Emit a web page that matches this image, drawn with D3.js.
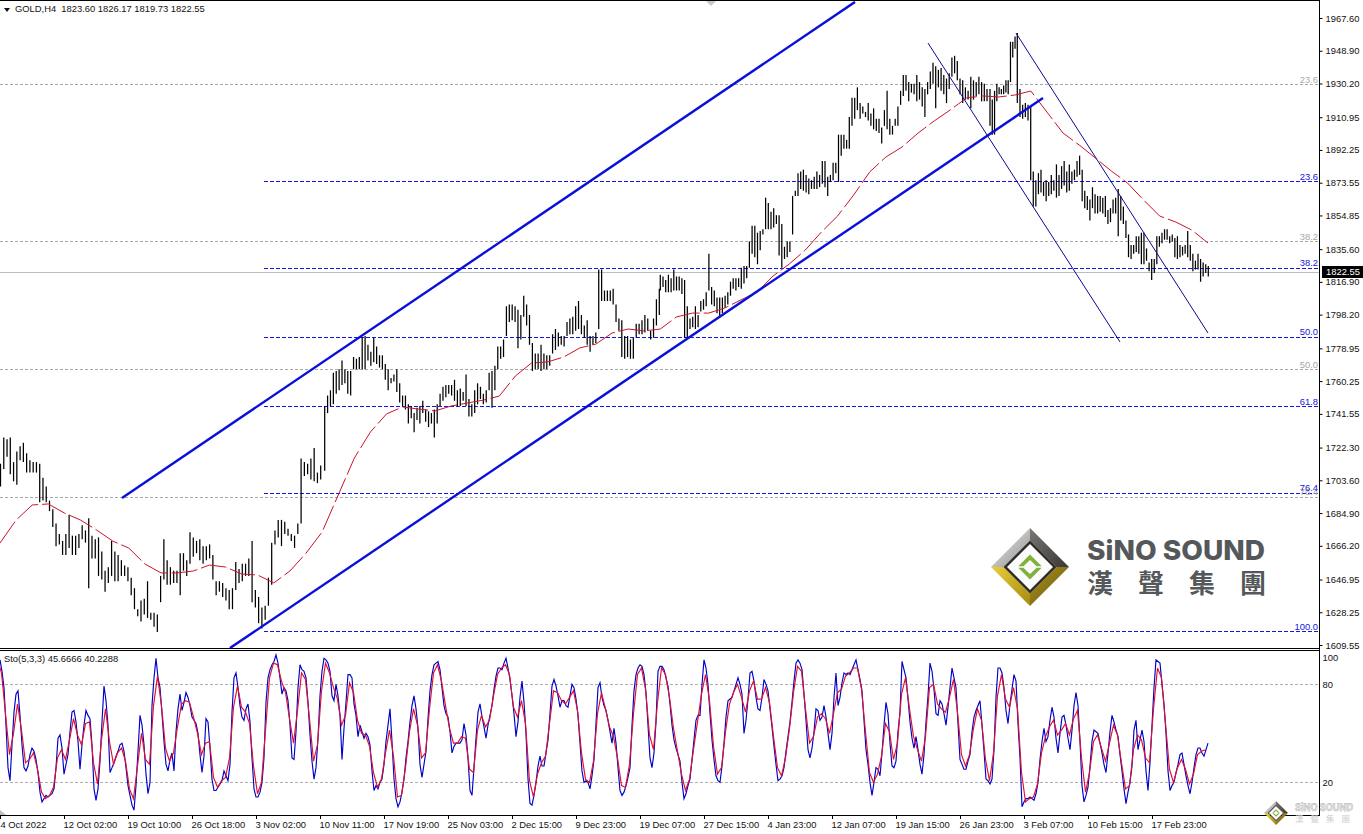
<!DOCTYPE html>
<html><head><meta charset="utf-8">
<style>html,body{margin:0;padding:0;background:#fff;overflow:hidden}svg{display:block}text{font-family:"Liberation Sans",Arial,sans-serif;font-size:9.4px;fill:#111}</style>
<script src="https://d3js.org/d3.v7.min.js"></script></head><body>
<script>
// --- Price bars (highs/lows), four consecutive stretches of the chart
const highsA=[1713,1728,1727,1728,1714,1720,1723,1725,1719,1715,1714,1714,1713,1705,1700,1692,1687,1679,1673,1669,1673,1684,1672,1672,1673,1678,1675,1682,1672,1670,1671,1663,1652,1654,1669,1663,1661,1658,1655,1654,1648,1642,1630,1635,1636,1646,1628,1628,1627,1649,1670,1658,1654,1652,1652,1662,1662,1658,1674,1671,1669,1670,1666,1666,1667,1661,1646,1646,1645,1642,1641,1642,1657,1653,1656,1656,1659,1669,1641,1637,1631,1632,1648,1668,1675,1681,1681,1680,1676,1673,1672,1679,1716,1714,1713,1716,1722,1708,1712];
const lowsA=[1700,1710,1717,1707,1703,1701,1715,1714,1708,1708,1708,1708,1691,1692,1691,1686,1677,1666,1667,1661,1661,1665,1661,1661,1665,1670,1668,1642,1659,1659,1649,1647,1640,1645,1649,1646,1646,1649,1649,1646,1638,1630,1626,1623,1627,1625,1624,1620,1617,1634,1647,1644,1644,1645,1645,1638,1652,1649,1656,1660,1662,1658,1656,1658,1659,1647,1638,1640,1637,1635,1630,1630,1641,1645,1646,1649,1649,1634,1631,1622,1619,1624,1632,1644,1667,1671,1666,1673,1672,1669,1665,1673,1679,1706,1707,1704,1703,1702,1704];
const highsB=[1746,1752,1755,1765,1766,1767,1772,1767,1766,1766,1774,1773,1774,1785,1786,1781,1777,1785,1780,1775,1775,1770,1767,1762,1764,1767,1759,1752,1752,1747,1746,1742,1745,1746,1749,1744,1743,1742,1744,1747,1753,1757,1758,1758,1758,1761,1755,1756,1754,1764,1750,1747,1755,1759,1757,1753,1755,1765,1766,1769,1780,1780,1784,1803,1804,1804,1803,1801,1798,1809,1804,1798,1782,1776,1776,1781,1776,1775,1775,1787,1790,1788,1786,1786,1794,1796,1797,1803,1806,1798,1792,1795,1786,1786,1788,1824,1824,1812,1812,1812,1813,1804,1796,1795,1786,1786,1784,1785,1793,1793,1795,1798,1796,1789,1796,1807,1813];
const lowsB=[1709,1742,1746,1747,1753,1755,1758,1759,1753,1752,1767,1767,1767,1767,1767,1772,1769,1771,1770,1768,1767,1761,1755,1759,1760,1754,1748,1746,1744,1736,1739,1731,1738,1736,1742,1737,1734,1736,1728,1736,1746,1749,1751,1753,1752,1749,1746,1746,1749,1746,1740,1740,1742,1747,1750,1747,1748,1755,1745,1755,1767,1773,1774,1786,1794,1795,1794,1779,1784,1797,1792,1781,1766,1767,1767,1766,1767,1767,1769,1776,1778,1780,1781,1780,1786,1787,1787,1789,1790,1787,1785,1781,1777,1781,1782,1790,1806,1806,1806,1806,1804,1794,1789,1774,1773,1774,1773,1773,1785,1787,1787,1788,1789,1784,1785,1792,1798];
const highsC=[1821,1820,1818,1821,1819,1824,1820,1820,1819,1818,1803,1796,1797,1803,1798,1806,1807,1811,1833,1814,1812,1808,1808,1808,1809,1811,1817,1819,1819,1819,1825,1826,1826,1840,1849,1849,1845,1846,1847,1865,1862,1857,1859,1855,1855,1850,1837,1840,1840,1866,1869,1879,1880,1881,1878,1876,1875,1877,1880,1878,1886,1886,1877,1878,1885,1885,1901,1901,1901,1898,1911,1922,1922,1928,1919,1917,1914,1919,1913,1916,1910,1910,1905,1915,1926,1910,1906,1910,1917,1926,1935,1935,1931,1930,1930,1935,1931,1928,1927,1931,1937,1942,1940,1938,1939,1935,1933,1936,1945,1946,1943,1933,1932,1928,1926,1934,1932,1931,1934,1931,1930,1927];
const lowsC=[1812,1814,1811,1811,1811,1812,1812,1812,1810,1785,1785,1790,1791,1790,1791,1800,1801,1803,1812,1804,1803,1799,1797,1799,1802,1804,1809,1813,1812,1814,1813,1816,1819,1825,1833,1831,1827,1835,1844,1847,1847,1847,1848,1850,1832,1825,1830,1831,1834,1844,1866,1866,1870,1869,1868,1867,1870,1870,1870,1871,1873,1871,1866,1874,1875,1879,1874,1889,1893,1893,1893,1906,1910,1915,1910,1913,1911,1909,1906,1904,1903,1902,1896,1906,1904,1901,1901,1906,1906,1918,1923,1926,1920,1925,1924,1920,1921,1917,1911,1924,1927,1930,1916,1928,1926,1924,1919,1927,1934,1936,1932,1924,1919,1921,1921,1916,1921,1923,1924,1920,1920,1920];
const highsD=[1927,1921,1926,1930,1928,1927,1929,1932,1932,1954,1954,1957,1959,1927,1918,1919,1918,1917,1880,1875,1879,1881,1874,1875,1874,1878,1875,1884,1878,1883,1886,1880,1884,1880,1881,1886,1889,1881,1869,1866,1864,1871,1867,1866,1866,1865,1866,1858,1859,1864,1865,1870,1866,1860,1852,1844,1838,1838,1843,1843,1845,1845,1836,1828,1830,1830,1843,1843,1845,1847,1847,1843,1844,1842,1843,1838,1837,1838,1846,1838,1833,1829,1833,1830,1828,1827,1826];
const lowsD=[1906,1901,1901,1920,1924,1924,1924,1925,1924,1931,1945,1950,1919,1911,1910,1911,1909,1875,1860,1860,1867,1868,1866,1863,1866,1867,1869,1865,1866,1870,1872,1868,1869,1873,1875,1877,1878,1863,1859,1858,1852,1859,1856,1856,1857,1856,1854,1850,1851,1856,1856,1843,1852,1850,1842,1831,1830,1833,1834,1833,1827,1827,1829,1823,1818,1822,1827,1837,1839,1841,1841,1839,1840,1831,1830,1831,1832,1833,1831,1829,1823,1824,1824,1817,1820,1822,1820];
// --- Moving average (read every ~16px)
const movingAvg=[1667.8,1680.9,1689.5,1690.1,1684.9,1680.9,1675.2,1668.9,1664.9,1655.8,1650.7,1650.7,1651.8,1655.2,1654.1,1650.1,1649.5,1645,1651.8,1662,1674.1,1695.2,1716.3,1731.2,1741.5,1745.5,1744.3,1743.2,1746,1747.7,1749.4,1751.7,1763.2,1770.6,1771.2,1774,1779.2,1781.4,1787.7,1790,1788.9,1790,1796.9,1799.1,1799.1,1802,1806.6,1811.1,1820.3,1827.1,1835.1,1845.4,1854.5,1866.5,1879.7,1888.2,1893.9,1901.9,1908.8,1915.1,1921.9,1923.1,1922.5,1923.6,1925.9,1913.9,1901.9,1895.1,1887.7,1880.2,1873.4,1863.7,1854.5,1851.1,1846.5,1839.1];
// --- Stochastic %K and %D
const stoMain=[95,88,78,55,29,21,43,63,74,76,61,43,29,27,30,37,41,39,34,26,14,8,10,12,11,12,13,16,29,47,49,41,25,31,37,51,63,64,57,45,28,43,55,64,61,59,43,16,9,16,33,57,79,70,55,26,29,32,36,39,43,44,39,29,18,12,6,3,18,39,61,55,43,25,13,20,67,84,96,84,78,62,45,31,27,34,38,27,51,65,74,64,69,75,72,67,60,58,56,50,37,26,36,59,57,41,22,15,15,17,19,21,27,24,21,31,63,84,87,78,67,60,58,65,68,57,35,16,11,11,14,20,35,69,84,89,92,94,98,93,84,74,78,76,70,55,35,34,51,78,92,89,88,84,69,49,33,22,29,47,73,88,96,95,93,88,73,70,80,73,61,34,53,69,86,86,84,68,61,48,55,51,47,50,48,43,27,15,18,16,20,22,31,45,55,65,45,22,10,5,8,14,22,35,45,57,67,73,65,53,31,23,31,39,59,76,86,92,93,94,89,78,67,62,60,51,38,42,44,44,
44,46,56,49,35,15,12,29,47,63,68,60,54,47,55,61,67,77,85,90,90,89,93,96,90,83,73,62,48,57,72,82,69,50,22,7,6,12,20,30,36,30,30,38,46,62,79,83,79,73,66,70,70,67,66,73,80,78,71,61,44,27,20,21,20,16,24,34,56,78,81,72,67,64,58,51,44,53,44,29,15,12,14,18,23,29,55,76,86,90,92,91,86,75,55,35,29,38,57,88,91,91,89,84,79,68,55,46,41,37,33,20,10,13,18,22,34,46,58,61,61,80,95,90,80,62,46,34,24,21,20,30,44,60,70,71,72,76,80,84,80,74,50,58,71,87,88,82,72,65,64,72,83,80,76,65,54,42,31,21,22,24,29,39,48,57,69,82,93,95,93,89,74,58,40,35,41,51,65,64,58,60,67,60,50,40,50,72,87,67,72,81,87,86,87,86,89,92,95,89,83,76,58,40,31,20,12,20,29,28,24,38,55,69,62,44,30,29,33,51,63,94,
89,84,71,57,47,41,48,40,31,25,37,57,73,93,88,77,62,61,70,68,62,55,66,78,90,84,78,56,34,31,28,28,33,37,51,60,64,67,70,55,39,22,21,19,22,40,72,90,90,87,78,64,56,68,77,86,82,56,35,5,8,10,10,11,10,9,13,20,34,45,53,45,48,58,66,60,47,38,50,60,61,55,47,40,52,67,75,67,45,18,8,12,17,30,45,52,51,50,44,38,31,26,38,51,61,57,52,48,37,27,16,7,14,20,30,52,58,40,46,52,45,27,15,32,55,78,95,94,93,80,68,50,27,15,18,20,26,31,37,38,31,24,18,13,20,29,37,41,41,38,36,40,44];
const stoSignal=[95,87,62,37,50,68,52,32,34,38,28,14,10,12,17,35,40,34,46,59,49,43,56,57,32,19,46,65,45,31,38,41,33,16,10,30,50,34,31,67,85,67,41,33,38,54,68,70,69,60,50,37,44,45,23,17,21,23,35,66,79,66,63,56,30,13,20,52,84,93,92,82,75,59,44,64,87,83,59,33,43,76,93,87,78,71,55,61,81,75,58,50,49,42,26,17,22,38,52,36,11,12,29,51,65,55,35,38,65,87,92,82,67,53,44,44,48,47,28,26,52,61,54,58,73,86,90,92,86,66,60,70,56,21,11,25,32,36,56,76,75,70,68,72,76,64,38,22,20,33,62,75,65,54,48,35,18,17,31,62,86,90,77,49,40,69,90,86,72,53,39,25,15,22,40,57,74,86,70,42,25,29,51,68,75,80,72,63,76,82,71,71,78,69,48,29,24,35,53,75,91,88,65,44,48,60,62,59,50,62,75,77,85,87,90,90,77,51,26,20,25,36,56,51,34,44,74,84,65,48,40,33,48,78,80,68,65,63,72,83,63,37,30,37,53,65,58,34,21,38,73,86,71,66,78,65,26,8,10,11,19,38,48,54,58,49,52,56,49,59,64,35,14,26,45,49,41,33,44,55,49,32,16,18,40,49,46,35,32,65,90,84,56,28,20,29,34,28,19,25,37,39,40];
// --- Axis text
const priceTicks=[1967.60,1948.90,1930.20,1910.95,1892.25,1873.55,1854.85,1835.60,1816.90,1798.20,1778.95,1760.25,1741.55,1722.30,1703.60,1684.90,1666.20,1646.95,1628.25,1609.55];
const timeLabels=["4 Oct 2022","12 Oct 02:00","19 Oct 10:00","26 Oct 18:00","3 Nov 02:00","10 Nov 11:00","17 Nov 19:00","25 Nov 03:00","2 Dec 15:00","9 Dec 23:00","19 Dec 07:00","27 Dec 15:00","4 Jan 23:00","12 Jan 07:00","19 Jan 15:00","26 Jan 23:00","3 Feb 07:00","10 Feb 15:00","17 Feb 23:00"];
const stoLevels=[80,20];
const lastPrice=1822.55;
// --- Fibonacci levels and trend lines (time = half-bar slot, price)
const fibBlueLevels=["23.6","38.2","50.0","61.8","76.4","100.0"];
const fibBluePrices=[1873.96,1824.8,1785.4,1745.5,1696.3,1617];
const fibGrayLevels=["23.6","38.2","50.0","76.4"];
const fibGrayPrices=[1929.4,1839.7,1766.6,1694];
const fibBlueStartSlot=132;
const channelThick=[[[61,1693.5],[427.5,1976.8]],[[115,1607.8],[521.5,1921.9]]];
const channelThin=[[[464,1953.3],[560,1782.6]],[[508,1959],[604,1787.7]]];

const W=1363,H=834,plotR=1320,mainBot=649,subTop=651,subBot=815;
const svg=d3.select("body").append("svg").attr("width",W).attr("height",H);
svg.append("rect").attr("width",W).attr("height",H).attr("fill","#fff");
const defs=svg.append("defs");
defs.append("clipPath").attr("id","cm").append("rect").attr("x",0).attr("y",1).attr("width",plotR).attr("height",mainBot-1);
defs.append("clipPath").attr("id","cs").append("rect").attr("x",0).attr("y",subTop).attr("width",plotR).attr("height",subBot-subTop);

const y=d3.scaleLinear().domain([1967.6,1609.55]).range([18,645]);
const slot=d3.scaleLinear().domain([0,604]).range([0,1208]);
const ys=d3.scaleLinear().domain([0,100]).range([815,651.7]);
const main=svg.append("g").attr("clip-path","url(#cm)");

// Gray and blue Fibonacci levels
fibGrayPrices.forEach((p,i)=>{
  main.append("line").attr("x1",0).attr("x2",plotR).attr("y1",y(p)).attr("y2",y(p)).attr("stroke","#a8a8a8").attr("stroke-dasharray","3 2").attr("shape-rendering","crispEdges");
});
fibBluePrices.forEach(p=>{
  main.append("line").attr("x1",slot(fibBlueStartSlot)).attr("x2",plotR).attr("y1",y(p)).attr("y2",y(p)).attr("stroke","#1414e6").attr("stroke-dasharray","4 2").attr("shape-rendering","crispEdges");
});
main.append("line").attr("x1",0).attr("x2",plotR).attr("y1",y(lastPrice)).attr("y2",y(lastPrice)).attr("stroke","#bdbdbd").attr("shape-rendering","crispEdges");

// Bars
const highs=[].concat(highsA,highsB,highsC,highsD), lows=[].concat(lowsA,lowsB,lowsC,lowsD);
const nA=highsA.length,nB=highsB.length,nC=highsC.length,nD=highsD.length,nE=nA+nB+nC;
const xBar=d3.scaleLinear()
  .domain([0,nA-1,nA,nA+nB-1,nA+nB,nE-1,nE,nE+12,nE+17,nE+nD-1])
  .range([0.5,320.7,324.7,659.3,660.3,987,990,1017.3,1030.7,1208.3]);
main.append("g").selectAll("line").data(highs).join("line")
  .attr("x1",(d,i)=>xBar(i)).attr("x2",(d,i)=>xBar(i))
  .attr("y1",d=>y(d)).attr("y2",(d,i)=>y(lows[i])).attr("stroke","#000").attr("stroke-width",1.25);

// Moving average
const xMA=d3.scaleLinear().domain([0,movingAvg.length-1]).range([0,1208]);
main.append("path").datum(movingAvg).attr("fill","none").attr("stroke","#c8142c").attr("stroke-width",1).attr("stroke-dasharray","26 4")
  .attr("d",d3.line().x((d,i)=>xMA(i)).y(d=>y(d)));

// Trend lines
channelThick.forEach(l=>main.append("line").attr("x1",slot(l[0][0])).attr("y1",y(l[0][1])).attr("x2",slot(l[1][0])).attr("y2",y(l[1][1])).attr("stroke","#0a10d8").attr("stroke-width",2.4));
channelThin.forEach(l=>main.append("line").attr("x1",slot(l[0][0])).attr("y1",y(l[0][1])).attr("x2",slot(l[1][0])).attr("y2",y(l[1][1])).attr("stroke","#0a0a90").attr("stroke-width",1));

// Fibonacci labels
fibGrayPrices.forEach((p,i)=>svg.append("text").attr("x",1318).attr("y",y(p)-2).attr("text-anchor","end").style("fill","#a8a8a8").text(fibGrayLevels[i]));
fibBluePrices.forEach((p,i)=>svg.append("text").attr("x",1318).attr("y",y(p)-2).attr("text-anchor","end").style("fill","#1515d8").text(fibBlueLevels[i]));

// Frames
const frame=(x1,y1,x2,y2)=>svg.append("line").attr("x1",x1).attr("y1",y1).attr("x2",x2).attr("y2",y2).attr("stroke","#000").attr("shape-rendering","crispEdges");
frame(0,0.5,plotR,0.5);frame(0,648.5,plotR,648.5);frame(0,650.5,plotR,650.5);frame(0,815.5,plotR,815.5);
frame(plotR-.5,0,plotR-.5,816);

// Price axis
const axR=svg.append("g").attr("transform",`translate(${plotR-.5},0)`).call(d3.axisRight(y).tickValues(priceTicks).tickSize(3).tickPadding(3).tickFormat(d3.format(".2f")));
axR.select(".domain").remove();
axR.selectAll("text").style("font-size","9.4px").style("font-family",'"Liberation Sans",Arial,sans-serif').style("fill","#111");
axR.selectAll("line").attr("stroke","#000");
svg.append("rect").attr("x",1322).attr("y",y(lastPrice)-6).attr("width",41).attr("height",12).attr("fill","#000");
svg.append("text").attr("x",1326).attr("y",y(lastPrice)+3.4).style("fill","#fff").text(d3.format(".2f")(lastPrice));

// Stochastic
const sub=svg.append("g").attr("clip-path","url(#cs)");
stoLevels.forEach(v=>sub.append("line").attr("x1",0).attr("x2",plotR).attr("y1",ys(v)).attr("y2",ys(v)).attr("stroke","#b0b0b0").attr("stroke-dasharray","3 2").attr("shape-rendering","crispEdges"));
const xMain=d3.scaleLinear().domain([0,stoMain.length-1]).range([0,1208]);
const xSig=d3.scaleLinear().domain([0,stoSignal.length-1]).range([-2.5,1205.5]);
sub.append("path").datum(stoMain).attr("fill","none").attr("stroke","#0000c8").attr("stroke-width",1.15).attr("d",d3.line().x((d,i)=>xMain(i)).y(d=>ys(d)));
sub.append("path").datum(stoSignal).attr("fill","none").attr("stroke","#e01030").attr("stroke-width",1.15).attr("d",d3.line().x((d,i)=>xSig(i)).y(d=>ys(d)));
const axS=svg.append("g").attr("transform",`translate(${plotR-.5},0)`).call(d3.axisRight(ys).tickValues([100].concat(stoLevels)).tickSize(0).tickPadding(3).tickFormat(d3.format("d")));
axS.select(".domain").remove();
axS.selectAll("text").style("font-size","9.4px").style("font-family",'"Liberation Sans",Arial,sans-serif').style("fill","#111");
axS.selectAll(".tick").filter(d=>d===100).select("text").attr("dy","0.7em").attr("y",2);

// Time axis
const xT=d3.scalePoint().domain(timeLabels).range([0,64*(timeLabels.length-1)]);
const tk=svg.append("g").selectAll("g").data(timeLabels).join("g").attr("transform",d=>`translate(${xT(d)+.5},816)`);
tk.append("line").attr("y1",0).attr("y2",3).attr("stroke","#000").attr("shape-rendering","crispEdges");
tk.append("text").attr("x",(d,i)=>i?-1:0).attr("y",12).text(d=>d);

// Headers
svg.append("path").attr("d","M4 8h6l-3 4z").attr("fill","#111");
svg.append("text").attr("x",15).attr("y",12).text("GOLD,H4  1823.60 1826.17 1819.73 1822.55").attr("xml:space","preserve");
svg.append("text").attr("x",4).attr("y",662).text("Sto(5,3,3) 45.6666 40.2288");
svg.append("path").attr("d","M706 1h10l-5 5z").attr("fill","#c8c8c8");
svg.append("path").attr("d","M0 810l6 5h-6z").attr("fill","#bdbdbd");

// Logo
function logo(cx,cy,r,g){
  const P=(pts,fill)=>g.append("polygon").attr("points",pts.map(p=>[cx+p[0]*r,cy+p[1]*r].join(",")).join(" ")).attr("fill",fill);
  const lg=(id,a,b)=>{const q=defs.append("linearGradient").attr("id",id).attr("x1",0).attr("y1",0).attr("x2",1).attr("y2",1);q.append("stop").attr("offset",0).attr("stop-color",a);q.append("stop").attr("offset",1).attr("stop-color",b);return `url(#${id})`;};
  const k=Math.round(r);
  P([[0,-1],[-1,0],[-.68,0],[0,-.68]],lg("s"+k,"#f2f2f2","#8d8d8d"));
  P([[0,-1],[1,0],[.68,0],[0,-.68]],lg("d"+k,"#7a7674","#3a3634"));
  P([[-1,0],[0,1],[0,.68],[-.68,0]],lg("g"+k,"#e8cf3a","#a58a10"));
  P([[1,0],[0,1],[0,.68],[.68,0]],lg("h"+k,"#a8901c","#6c5a10"));
  P([[0,-.68],[.68,0],[0,.68],[-.68,0]],"#2e2a26");
  P([[0,-.59],[.59,0],[0,.59],[-.59,0]],"#fbfbfb");
  P([[-.3,-.02],[0,-.32],[.3,-.02],[.17,-.02],[0,-.18],[-.17,-.02]],"#7fb23a");
  P([[-.3,.02],[0,.32],[.3,.02],[.17,.02],[0,.18],[-.17,.02]],"#7fb23a");
}
const lg1=svg.append("g");
logo(1030,567,39,lg1);
lg1.append("text").attr("x",1087).attr("y",560).style("font-family",'Inter,"Liberation Sans",sans-serif').style("font-weight",800).style("font-size","27px").style("fill","#55585a").attr("textLength",178).attr("lengthAdjust","spacingAndGlyphs").text("SiNO SOUND");
lg1.append("text").attr("x",1087).attr("y",593).style("font-family",'"Noto Sans CJK TC"').style("font-weight",700).style("font-size","26px").style("fill","#55585a").attr("letter-spacing","25px").text("漢聲集團");
const lg2=svg.append("g");
logo(1276,813,12,lg2);
lg2.append("text").attr("x",1295).attr("y",811).style("font-family",'Inter,"Liberation Sans",sans-serif').style("font-weight",800).style("font-size","10px").style("fill","#e2e2e2").style("stroke","#8a8a8a").style("stroke-width",".25px").attr("textLength",58).attr("lengthAdjust","spacingAndGlyphs").text("SiNO SOUND");
lg2.append("text").attr("x",1295).attr("y",822).style("font-family",'"Noto Sans CJK TC"').style("font-size","8.5px").style("fill","#cfcfcf").attr("letter-spacing","7px").text("漢聲集團");
</script></body></html>
